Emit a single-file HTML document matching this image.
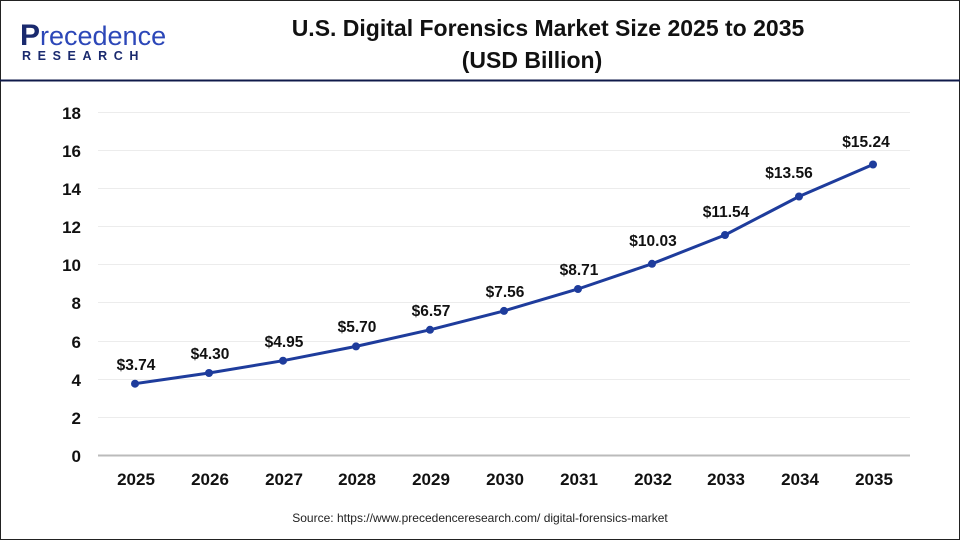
<!DOCTYPE html><html><head><style>body{margin:0}svg{display:block}</style></head><body>
<svg width="960" height="540" xmlns="http://www.w3.org/2000/svg" font-family="Liberation Sans, Arial, sans-serif">
<rect x="0.5" y="0.5" width="959" height="539" fill="#fff" stroke="#222"/>
<line x1="0" y1="80.5" x2="960" y2="80.5" stroke="#0f1a4a" stroke-width="2"/>
<text x="20" y="45" font-size="30" fill="#1a2a6e" font-weight="bold">P</text>
<text x="40" y="45" font-size="27" fill="#2c47b8">recedence</text>
<text x="22" y="60" font-size="12.5" fill="#1a2a6e" font-weight="bold" letter-spacing="6.6">RESEARCH</text>
<text x="548" y="36" font-size="23" font-weight="bold" text-anchor="middle" fill="#111">U.S. Digital Forensics Market Size 2025 to 2035</text>
<text x="532" y="68" font-size="23" font-weight="bold" text-anchor="middle" fill="#111">(USD Billion)</text>
<g stroke="#ececec" stroke-width="1">
<line x1="98" x2="910" y1="112.5" y2="112.5"/><line x1="98" x2="910" y1="150.5" y2="150.5"/><line x1="98" x2="910" y1="188.5" y2="188.5"/><line x1="98" x2="910" y1="226.5" y2="226.5"/><line x1="98" x2="910" y1="264.5" y2="264.5"/><line x1="98" x2="910" y1="302.5" y2="302.5"/><line x1="98" x2="910" y1="341.5" y2="341.5"/><line x1="98" x2="910" y1="379.5" y2="379.5"/><line x1="98" x2="910" y1="417.5" y2="417.5"/>
</g>
<line x1="98" x2="910" y1="455.5" y2="455.5" stroke="#bbb" stroke-width="2"/>
<g font-size="17" font-weight="bold" fill="#111" text-anchor="end">
<text x="81" y="119">18</text><text x="81" y="157">16</text><text x="81" y="195">14</text><text x="81" y="233">12</text><text x="81" y="271">10</text><text x="81" y="309">8</text><text x="81" y="348">6</text><text x="81" y="386">4</text><text x="81" y="424">2</text><text x="81" y="462">0</text>
</g>
<g font-size="17" font-weight="bold" fill="#111" text-anchor="middle">
<text x="136" y="485">2025</text><text x="210" y="485">2026</text><text x="284" y="485">2027</text><text x="357" y="485">2028</text><text x="431" y="485">2029</text><text x="505" y="485">2030</text><text x="579" y="485">2031</text><text x="653" y="485">2032</text><text x="726" y="485">2033</text><text x="800" y="485">2034</text><text x="874" y="485">2035</text>
</g>
<polyline fill="none" stroke="#1e3c9c" stroke-width="3" points="135,383.7 209,373 283,360.7 356,346.4 430,329.8 504,310.9 578,289 652,263.8 725,235 799,196.5 873,164.5"/>
<g fill="#1e3c9c">
<circle cx="135" cy="383.7" r="4"/><circle cx="209" cy="373" r="4"/><circle cx="283" cy="360.7" r="4"/><circle cx="356" cy="346.4" r="4"/><circle cx="430" cy="329.8" r="4"/><circle cx="504" cy="310.9" r="4"/><circle cx="578" cy="289" r="4"/><circle cx="652" cy="263.8" r="4"/><circle cx="725" cy="235" r="4"/><circle cx="799" cy="196.5" r="4"/><circle cx="873" cy="164.5" r="4"/>
</g>
<g font-size="15.5" font-weight="bold" fill="#111" text-anchor="middle">
<text x="136" y="370">$3.74</text><text x="210" y="359">$4.30</text><text x="284" y="347">$4.95</text><text x="357" y="332">$5.70</text><text x="431" y="316">$6.57</text><text x="505" y="297">$7.56</text><text x="579" y="275">$8.71</text><text x="653" y="246">$10.03</text><text x="726" y="217">$11.54</text><text x="789" y="178">$13.56</text><text x="866" y="147">$15.24</text>
</g>
<text x="480" y="522" font-size="12" fill="#222" text-anchor="middle">Source: https://www.precedenceresearch.com/ digital-forensics-market</text>
</svg>
</body></html>
